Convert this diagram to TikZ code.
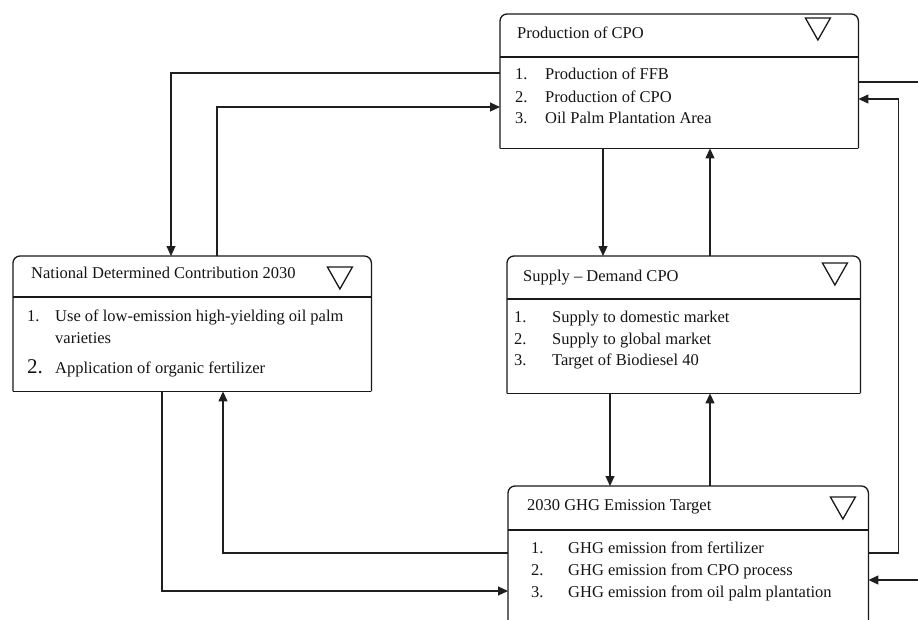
\documentclass[tikz,border=0pt]{standalone}
\usepackage{fontspec}
\setmainfont{Liberation Serif}
\usetikzlibrary{arrows.meta,calc}

\begin{document}
\begin{tikzpicture}[x=1pt,y=-1pt,
  panel/.style={draw=none,inner sep=0pt,anchor=north west},
  outline/.style={line width=1.3pt,draw=black!90},
  ttl/.style={inner sep=0pt,anchor=base west,font=\fontsize{16.5}{20}\selectfont,text=black!92},
  itm/.style={inner sep=0pt,anchor=base west,font=\fontsize{16.5}{20}\selectfont,text=black!92},
  arr/.style={-{Triangle[length=10pt,width=9pt]},line width=1.2pt,draw=black!88}]

  \useasboundingbox (0,0) rectangle (918,619);
  \clip (0,0) rectangle (918,619);

  % panels: name/x/y/width/height/header/triangle/title offset/title
  \foreach \n/\x/\y/\w/\h/\hd/\tx/\ty/\ox/\oy/\t in {
    prod/500/14/358/134/43/-53/4/17/24.5/{Production of CPO},
    ndc/13/256/358/135/41/-44/11/18/22.5/{National Determined Contribution 2030},
    sd/507/256/353/137/43/-38/7/16/25.5/{Supply – Demand CPO},
    ghg/508/486/360/160/44/-38/11/19/24.5/{2030 GHG Emission Target}}
    {\node[panel,minimum width=\w pt,minimum height=\h pt] (\n) at (\x,\y) {};
     \draw[outline,rounded corners=7pt] (\n.south west) -- (\n.north west) -- (\n.north east) -- (\n.south east);
     \draw[outline] (\n.south west) -- (\n.south east);
     \draw[outline] ($(\n.north west)+(0,\hd)$) -- ($(\n.north east)+(0,\hd)$);
     \draw[outline] ($(\n.north east)+(\tx,\ty)$) -- ++(25,0) -- ++(-12.5,22) -- cycle;
     \node[ttl] (\n-t) at ($(\n.north west)+(\ox,\oy)$) {\t};}

  % list items: panel/number x/text x/baseline/number/text
  \foreach \p/\nx/\tx/\by/\k/\s [count=\c] in {
    prod/15/45/65.5/1./{Production of FFB},
    prod/15/45/88.5/2./{Production of CPO},
    prod/15/45/109.5/3./{Oil Palm Plantation Area},
    ndc/14/42/65.5/1./{Use of low-emission high-yielding oil palm},
    ndc/14/42/87.5/{}/{varieties},
    ndc/14/42/117.5/{\fontsize{21}{22}\selectfont 2.}/{Application of organic fertilizer},
    sd/7/45/66.5/1./{Supply to domestic market},
    sd/7/45/88.5/2./{Supply to global market},
    sd/7/45/109.5/3./{Target of Biodiesel 40},
    ghg/23/60/67.5/1./{GHG emission from fertilizer},
    ghg/23/60/89.5/2./{GHG emission from CPO process},
    ghg/23/60/111.5/3./{GHG emission from oil palm plantation}}
    {\node[itm] (\p-n\c) at ($(\p.north west)+(\nx,\by)$) {\k};
     \node[itm] (\p-i\c) at ($(\p.north west)+(\tx,\by)$) {\s};}

  % connectors
  \draw[arr] ($(prod.north west)+(0,59)$) -| ($(ndc.north west)+(158,0)$);
  \draw[arr] ($(ndc.north west)+(204,0)$) |- ($(prod.north west)+(0,93)$);
  \draw[arr] ($(prod.south west)+(103,0)$) -- ($(sd.north west)+(96,0)$);
  \draw[arr] ($(sd.north west)+(203,0)$) -- ($(prod.south west)+(210,0)$);
  \draw[arr] ($(sd.south west)+(103,0)$) -- ($(ghg.north west)+(102,0)$);
  \draw[arr] ($(ghg.north west)+(202,0)$) -- ($(sd.south west)+(203,0)$);
  \draw[arr] ($(ndc.south west)+(149,0)$) |- ($(ghg.north west)+(0,105)$);
  \draw[arr] ($(ghg.north west)+(0,67)$) -| ($(ndc.south west)+(210,0)$);
  \draw[arr] ($(ghg.north east)+(0,67)$) -| ($(prod.north east)+(40,85)$) -- ($(prod.north east)+(0,85)$);
  \draw[arr] ($(prod.north east)+(0,68)$) -- ++(75,0) |- ($(ghg.north east)+(0,94)$);
\end{tikzpicture}
\end{document}
